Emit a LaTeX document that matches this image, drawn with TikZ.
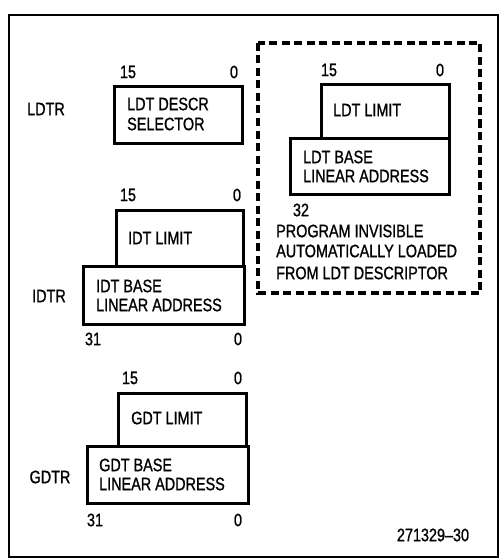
\documentclass[tikz,border=0pt]{standalone}
\usepackage{fontspec}
\setmainfont[FakeStretch=0.8,FakeBold=1]{Liberation Sans}
\begin{document}
\begin{tikzpicture}[x=1pt,y=-1pt,
  regbox/.style={draw,line width=3.2pt,anchor=north west,inner sep=0pt},
  lbl/.style={anchor=west,inner sep=0pt,font=\fontsize{18}{20}\selectfont},
  lblc/.style={anchor=center,inner sep=0pt,font=\fontsize{18}{20}\selectfont},
  frame/.style={draw,line width=1.3pt},
  dashbox/.style={draw,line width=3.2pt,dash pattern=on 8pt off 4.5pt}]
\useasboundingbox (0,0) rectangle (502,559);
\fill[white] (0,0) rectangle (502,559);
\draw[frame] (9,15) rectangle (498,557);

% LDTR
\node[lblc] (ldtr) at (46,109) {LDTR};
\node[regbox,minimum width=128pt,minimum height=57pt] (ldtrbox) at (113,85) {};
\node[lbl] (ldt1) at (127,104) {LDT DESCR};
\node[lbl] (ldt2) at (127,124) {SELECTOR};
\node[lblc] (ldt15) at (128,72) {15};
\node[lblc] (ldt0) at (234,72) {0};

% IDTR
\node[lblc] (idt15) at (128,195) {15};
\node[lblc] (idt0) at (237,195) {0};
\node[regbox,minimum width=127pt,minimum height=56pt] (idtlim) at (115,209) {};
\node[lbl] (idtl) at (128,238) {IDT LIMIT};
\node[regbox,minimum width=161pt,minimum height=58pt] (idtbase) at (82,265) {};
\node[lbl] (idtb1) at (96,286) {IDT BASE};
\node[lbl] (idtb2) at (96,305) {LINEAR ADDRESS};
\node[lblc] (idtr) at (49,296) {IDTR};
\node[lblc] (idt31) at (93,339) {31};
\node[lblc] (idt0b) at (238,339) {0};

% GDTR
\node[lblc] (gdt15) at (130,378) {15};
\node[lblc] (gdt0) at (238,378) {0};
\node[regbox,minimum width=128pt,minimum height=53pt] (gdtlim) at (117,392) {};
\node[lbl] (gdtl) at (131,418) {GDT LIMIT};
\node[regbox,minimum width=161pt,minimum height=57pt] (gdtbase) at (86,445) {};
\node[lbl] (gdtb1) at (99,465) {GDT BASE};
\node[lbl] (gdtb2) at (99,484) {LINEAR ADDRESS};
\node[lblc] (gdtr) at (50,477) {GDTR};
\node[lblc] (gdt31) at (95,520) {31};
\node[lblc] (gdt0b) at (238,520) {0};

% LDT cache (dashed)
\draw[dashbox] (258,43) rectangle (480,293);
\node[lblc] (lc15) at (329,70) {15};
\node[lblc] (lc0) at (440,70) {0};
\node[regbox,minimum width=128pt,minimum height=54pt] (ldtlim) at (320,83) {};
\node[lbl] (ldtl) at (333,110) {LDT LIMIT};
\node[regbox,minimum width=159pt,minimum height=56pt] (ldtbase) at (289,137) {};
\node[lbl] (ldtb1) at (303,157) {LDT BASE};
\node[lbl] (ldtb2) at (303,176) {LINEAR ADDRESS};
\node[lblc] (lc32) at (301,210) {32};
\node[lbl] (p1) at (276,231) {PROGRAM INVISIBLE};
\node[lbl] (p2) at (276,251) {AUTOMATICALLY LOADED};
\node[lbl] (p3) at (276,273) {FROM LDT DESCRIPTOR};

\node[lblc] (fig) at (433,535) {271329–30};
\end{tikzpicture}
\end{document}
